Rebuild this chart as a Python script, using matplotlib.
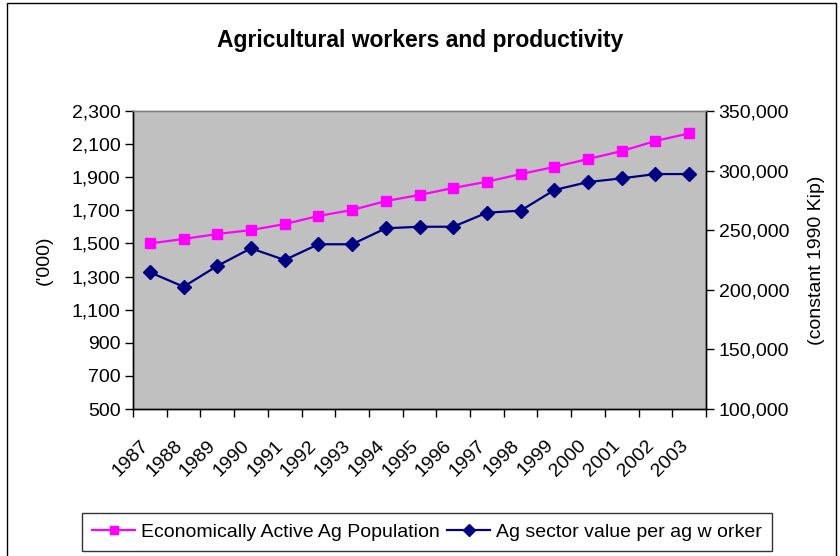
import numpy as np
import matplotlib
matplotlib.use('Agg')
from matplotlib import pyplot as plt
from matplotlib.ticker import FuncFormatter, FixedLocator
from matplotlib.patches import Rectangle
from matplotlib.transforms import ScaledTranslation

plt.rcParams['font.family'] = ['Liberation Sans', 'DejaVu Sans']

years = ['1987', '1988', '1989', '1990', '1991', '1992', '1993', '1994', '1995',
         '1996', '1997', '1998', '1999', '2000', '2001', '2002', '2003']
# economically active agricultural population ('000)
ag_pop = [1500, 1527, 1557, 1581, 1617, 1666, 1702, 1756, 1793,
          1835, 1873, 1919, 1962, 2010, 2058, 2119, 2165]
# agricultural sector value per worker (constant 1990 Kip)
value_per_worker = [214700, 202600, 220000, 234800, 225000, 238200, 238200, 251600, 252900,
                    252900, 264700, 266400, 283700, 290400, 293500, 297100, 297100]

left_ticks = list(range(500, 2301, 200))
right_ticks = list(range(100000, 350001, 50000))

FS = 14

fig = plt.figure(figsize=(8.4, 5.56), dpi=100)
ax = fig.add_axes([133/840, 1 - 409/556, (706 - 133)/840, (409 - 111)/556])
ax2 = ax.twinx()

x = np.arange(len(years))
ax.set_facecolor('#C0C0C0')
l1, = ax.plot(x, ag_pop, color='#FF00FF', lw=1.6, marker='s', ms=7.5,
              label='Economically Active Ag Population')
l2, = ax2.plot(x, value_per_worker, color='#000080', lw=1.6, marker='D', ms=7.5,
               label='Ag sector value per ag w orker')

ax.set_xlim(-0.5, len(years) - 0.5)
ax.set_ylim(500, 2300)
ax2.set_ylim(100000, 350000)
ax.set_yticks(left_ticks)
ax2.set_yticks(right_ticks)
comma = FuncFormatter(lambda v, p: f'{int(v):,}')
ax.yaxis.set_major_formatter(comma)
ax2.yaxis.set_major_formatter(comma)

# tick marks between categories, year labels centred on them
ax.xaxis.set_major_locator(FixedLocator(np.arange(-0.5, len(years), 1.0)))
ax.xaxis.set_minor_locator(FixedLocator(x))
ax.set_xticklabels([])
ax.set_xticklabels(years, minor=True, rotation=45, ha='right', va='top',
                   rotation_mode='anchor')
ax.tick_params(axis='x', which='major', direction='out', length=6, width=1)
ax.tick_params(axis='x', which='minor', length=0, pad=20, labelsize=FS)
shift = ScaledTranslation(-10/100, 0, fig.dpi_scale_trans)
for lab in ax.get_xticklabels(minor=True):
    lab.set_transform(lab.get_transform() + shift)
ax.tick_params(axis='y', direction='out', length=6, width=1, labelsize=FS, pad=3)
ax2.tick_params(axis='y', direction='out', length=6, width=1, labelsize=FS, pad=3)

for a in (ax, ax2):
    for s in a.spines.values():
        s.set_linewidth(1.0)
        s.set_color('black')
    a.spines['top'].set_color('#808080')

ax.set_ylabel("('000)", fontsize=FS, labelpad=14)
ax2.set_ylabel('(constant 1990 Kip)', fontsize=FS, labelpad=14)

fig.text(0.5, 1 - 40/556, 'Agricultural workers and productivity',
         ha='center', va='center', fontsize=16.5, fontweight='bold')

fig.legend(handles=[l1, l2], loc='center', bbox_to_anchor=(427/840, 1 - 532/556),
           ncol=2, fontsize=FS, frameon=True, fancybox=False, edgecolor='black',
           handlelength=2.2, handletextpad=0.3, columnspacing=0.4, markerscale=0.8,
           borderpad=0.5, borderaxespad=0)

# chart frame
fig.patches.append(Rectangle((7/840, -0.05), (836 - 7)/840, 1.05 - 3/556,
                             transform=fig.transFigure, fill=False,
                             edgecolor='black', lw=1.0))

fig.savefig('out.png', dpi=100)
